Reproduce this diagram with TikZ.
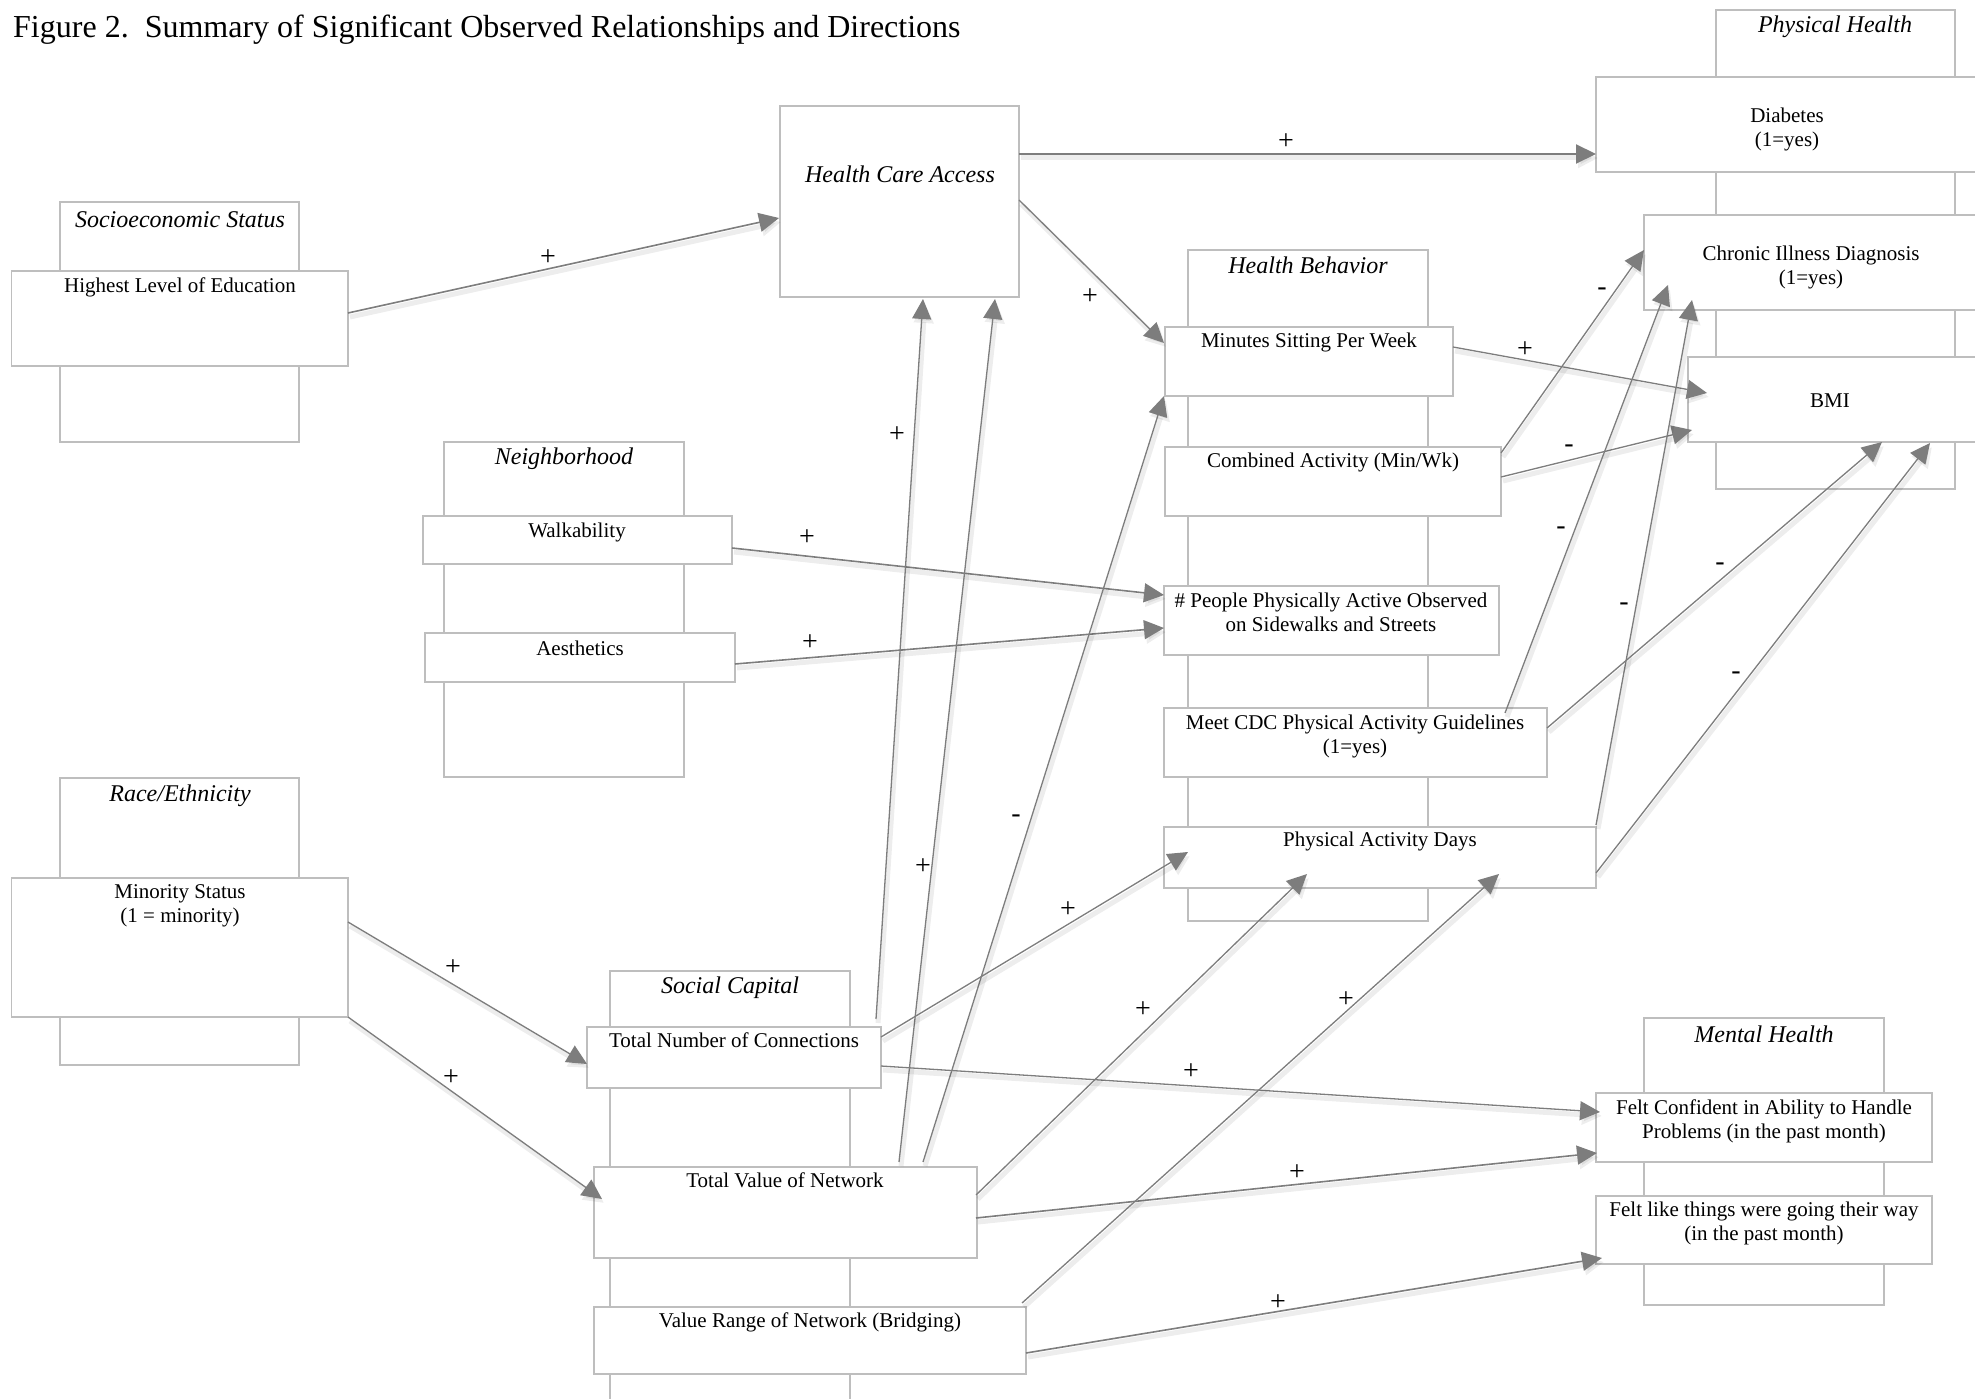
\documentclass[tikz,border=0pt]{standalone}
\usepackage{fontspec}
\setmainfont{Liberation Serif}
\usetikzlibrary{arrows.meta,calc,fit}
\definecolor{boxgray}{RGB}{190,190,190}
\definecolor{linegray}{RGB}{125,125,125}
\newcommand{\mkbox}[6]{\path (#3,#4) coordinate (#2-nw) (#5,#6) coordinate (#2-se);
  \node[#1, fit=(#2-nw)(#2-se), inner sep=0pt, outer sep=0pt] (#2) {};}
\frenchspacing
\begin{document}
\begin{tikzpicture}[x=1pt,y=-1pt,
  grp/.style={draw=boxgray,fill=white,line width=1.3pt},
  item/.style={draw=boxgray,fill=white,line width=1.3pt},
  conn/.style={draw=linegray,line width=1.3pt,-{Triangle[length=20pt,width=19pt]},
    preaction={draw=black,opacity=0.07,line width=5pt,transform canvas={shift={(2pt,-4pt)}}}},
  heavy/.style={line width=2pt},
  mid/.style={line width=1.6pt},
  txt/.style={anchor=base,inner sep=0pt,font=\fontsize{21}{24}\selectfont},
  ttl/.style={anchor=base,inner sep=0pt,font=\fontsize{24}{28}\selectfont\itshape},
  sign/.style={inner sep=0pt,font=\fontsize{28}{30}\selectfont}]
\clip (0,0) rectangle (1975,1399);
\fill[white] (0,0) rectangle (1975,1399);

% title
\node[anchor=base west,inner sep=0pt,font=\fontsize{32}{36}\selectfont] (title) at (13,38)
  {Figure 2.\enspace Summary of Significant Observed Relationships and Directions};

% group boxes
\mkbox{grp}{ses}{60}{202}{299}{442}
\mkbox{grp}{phys}{1716}{10}{1955}{489}
\mkbox{grp}{hb}{1188}{250}{1428}{921}
\mkbox{grp}{neigh}{444}{442}{684}{777}
\mkbox{grp}{race}{60}{778}{299}{1065}
\mkbox{grp}{soc}{610}{971}{850}{1430}
\mkbox{grp}{ment}{1644}{1018}{1884}{1305}

% item boxes
\mkbox{item}{hle}{11.5}{271}{348}{366}
\mkbox{item}{hca}{780}{106}{1019}{297}
\mkbox{item}{diab}{1596}{77}{1980}{172}
\mkbox{item}{chron}{1644}{215}{1980}{310}
\mkbox{item}{bmi}{1688}{357}{1980}{442}
\mkbox{item}{minsit}{1165}{327}{1453}{396}
\mkbox{item}{comb}{1165}{447}{1501}{516}
\mkbox{item}{people}{1164}{586}{1499}{655}
\mkbox{item}{cdc}{1164}{708}{1547}{777}
\mkbox{item}{pad}{1164}{827}{1596}{888}
\mkbox{item}{walk}{423}{516}{732}{564}
\mkbox{item}{aest}{425}{633}{735}{682}
\mkbox{item}{minor}{11.5}{878}{348}{1017}
\mkbox{item}{tnc}{587}{1027}{881}{1088}
\mkbox{item}{tvn}{594}{1167}{977}{1258}
\mkbox{item}{vr}{594}{1307}{1026}{1374}
\mkbox{item}{fc}{1596}{1093}{1932}{1162}
\mkbox{item}{flt}{1596}{1196}{1932}{1264}

% texts
\node[ttl] (ses-t) at (180,227) {Socioeconomic Status};
\node[txt] (hle-t) at (180,292) {Highest Level of Education};
\node[ttl] (hca-t) at (900,183) {Health Care Access};
\node[ttl] (phys-t) at (1835,33) {Physical Health};
\node[txt] (diab-t1) at (1787,123) {Diabetes};
\node[txt] (diab-t2) at (1787,147) {(1=yes)};
\node[txt] (chron-t1) at (1811,260) {Chronic Illness Diagnosis};
\node[txt] (chron-t2) at (1811,284) {(1=yes)};
\node[txt] (bmi-t) at (1830,407) {BMI};
\node[ttl] (hb-t) at (1308,273) {Health Behavior};
\node[txt] (minsit-t) at (1309,347) {Minutes Sitting Per Week};
\node[txt] (comb-t) at (1333,467) {Combined Activity (Min/Wk)};
\node[txt] (people-t1) at (1331,607) {\# People Physically Active Observed};
\node[txt] (people-t2) at (1331,631) {on Sidewalks and Streets};
\node[txt] (cdc-t1) at (1355,729) {Meet CDC Physical Activity Guidelines};
\node[txt] (cdc-t2) at (1355,753) {(1=yes)};
\node[txt] (pad-t) at (1380,846) {Physical Activity Days};
\node[ttl] (neigh-t) at (564,464) {Neighborhood};
\node[txt] (walk-t) at (577,537) {Walkability};
\node[txt] (aest-t) at (580,655) {Aesthetics};
\node[ttl] (race-t) at (180,801) {Race/Ethnicity};
\node[txt] (minor-t1) at (180,898) {Minority Status};
\node[txt] (minor-t2) at (180,922) {(1 = minority)};
\node[ttl] (soc-t) at (730,993) {Social Capital};
\node[txt] (tnc-t) at (734,1047) {Total Number of Connections};
\node[txt] (tvn-t) at (785,1187) {Total Value of Network};
\node[txt] (vr-t) at (810,1327) {Value Range of Network (Bridging)};
\node[ttl] (ment-t) at (1764,1042) {Mental Health};
\node[txt] (fc-t1) at (1764,1114) {Felt Confident in Ability to Handle};
\node[txt] (fc-t2) at (1764,1138) {Problems (in the past month)};
\node[txt] (flt-t1) at (1764,1216) {Felt like things were going their way};
\node[txt] (flt-t2) at (1764,1240) {(in the past month)};

% connectors
\draw[conn,mid] ($(hle.north east)+(0,42)$) -- ($(hca.north west)+(-1,112)$);
\draw[conn,heavy] ($(hca.north east)+(0,48)$) -- ($(diab.north west)+(0,77)$);
\draw[conn] ($(hca.north east)+(0,94)$) -- ($(minsit.north west)+(-1,16)$);
\draw[conn] ($(minsit.north east)+(0,20)$) -- ($(bmi.north west)+(19,36)$);
\draw[conn] ($(comb.north east)+(0,6)$) -- ($(chron.north west)+(0,35)$);
\draw[conn] ($(comb.north east)+(0,30)$) -- ($(bmi.south west)+(4,-12)$);
\draw[conn] ($(cdc.north east)+(-42,5)$) -- ($(chron.south west)+(24,-25)$);
\draw[conn] ($(pad.north east)+(0,-2)$) -- ($(chron.south west)+(48,-10)$);
\draw[conn] ($(cdc.north east)+(0,20)$) -- ($(bmi.south west)+(194,0)$);
\draw[conn] ($(pad.north east)+(0,46)$) -- ($(bmi.south west)+(242,1)$);
\draw[conn,mid] ($(walk.north east)+(0,32)$) -- ($(people.north west)+(0,9)$);
\draw[conn,mid] ($(aest.north east)+(0,31)$) -- ($(people.north west)+(0,42)$);
\draw[conn] ($(minor.north east)+(0,44)$) -- ($(tnc.north west)+(0,37)$);
\draw[conn] (minor.south east) -- ($(tvn.north west)+(8,32)$);
\draw[conn] ($(tnc.north west)+(289,-8)$) -- ($(hca.south west)+(143,2)$);
\draw[conn] ($(tvn.north west)+(305,-5)$) -- ($(hca.south west)+(215,2)$);
\draw[conn] ($(tvn.north west)+(329,-5)$) -- ($(minsit.south west)+(-1,0)$);
\draw[conn] ($(tnc.north east)+(0,10)$) -- ($(pad.south west)+(24,-36)$);
\draw[conn] ($(tnc.north east)+(0,39)$) -- ($(fc.north west)+(4,19)$);
\draw[conn] ($(tvn.north east)+(-1,28)$) -- ($(pad.south west)+(143,-14)$);
\draw[conn,mid] ($(tvn.north east)+(-1,51)$) -- ($(fc.south west)+(1,-9)$);
\draw[conn] ($(vr.north east)+(-4,-4)$) -- ($(pad.south west)+(335,-14)$);
\draw[conn,mid] ($(vr.north east)+(0,46)$) -- ($(flt.south west)+(6,-6)$);

% signs
\node[sign] (s1) at (548,258) {+};
\node[sign] (s2) at (1286,142) {+};
\node[sign] (s3) at (1090,297) {+};
\node[sign] (s4) at (1525,350) {+};
\node[sign] (s5) at (1602,292) {-};
\node[sign] (s6) at (1569,449) {-};
\node[sign] (s7) at (1561,531) {-};
\node[sign] (s8) at (1624,607) {-};
\node[sign] (s9) at (1720,567) {-};
\node[sign] (s10) at (1736,676) {-};
\node[sign] (s11) at (807,538) {+};
\node[sign] (s12) at (810,643) {+};
\node[sign] (s13) at (453,968) {+};
\node[sign] (s14) at (451,1078) {+};
\node[sign] (s15) at (897,435) {+};
\node[sign] (s16) at (923,867) {+};
\node[sign] (s17) at (1016,819) {-};
\node[sign] (s18) at (1068,910) {+};
\node[sign] (s19) at (1191,1072) {+};
\node[sign] (s20) at (1143,1010) {+};
\node[sign] (s21) at (1297,1173) {+};
\node[sign] (s22) at (1346,1000) {+};
\node[sign] (s23) at (1278,1303) {+};
\end{tikzpicture}
\end{document}
